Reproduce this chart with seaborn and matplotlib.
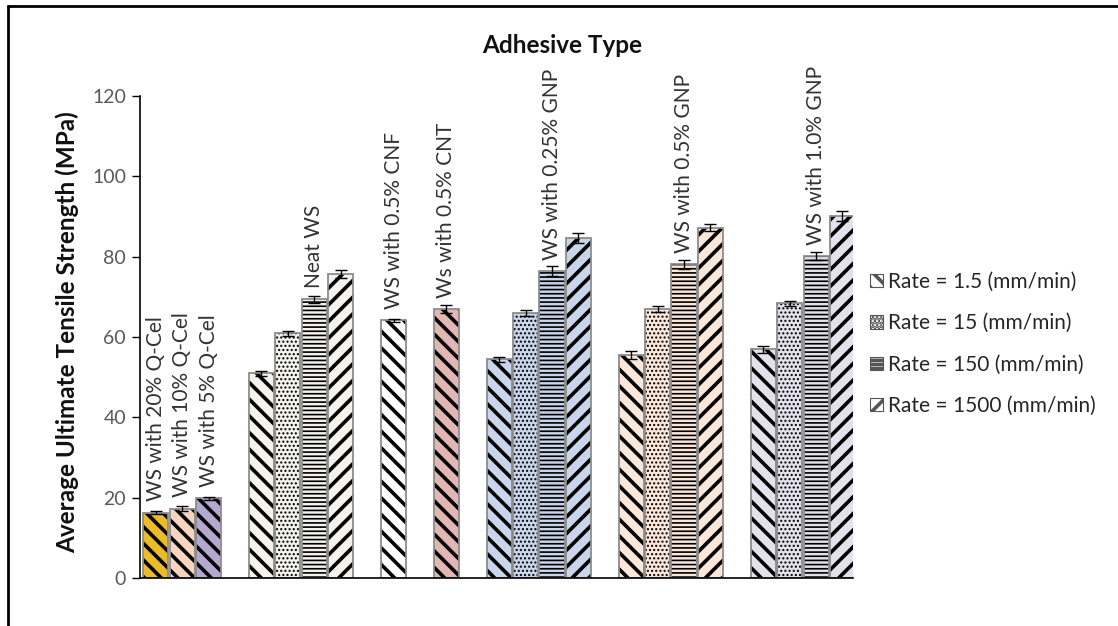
import matplotlib
matplotlib.use("Agg")
import matplotlib.pyplot as plt
import matplotlib.patches as mpatches
import matplotlib.lines as mlines
import matplotlib.colors as mcolors
import pandas as pd
import seaborn as sns

# ---- data -------------------------------------------------------------
rate_labels = ["Rate = 1.5 (mm/min)", "Rate = 15 (mm/min)",
               "Rate = 150 (mm/min)", "Rate = 1500 (mm/min)"]

qcel_labels = ["WS with 20% Q-Cel", "WS with 10% Q-Cel", "WS with 5% Q-Cel"]
qcel_strength = [16.3, 17.3, 19.8]
qcel_error = [0.3, 0.5, 0.3]

neat_label = "Neat WS"
neat_strength = [51.0, 60.9, 69.4, 75.7]
neat_error = [0.6, 0.7, 0.9, 0.9]

cnf_label = "WS with 0.5% CNF"
cnf_strength = [64.2]
cnf_error = [0.4]

cnt_label = "Ws with 0.5% CNT"
cnt_strength = [67.0]
cnt_error = [0.9]

gnp025_label = "WS with 0.25% GNP"
gnp025_strength = [54.5, 66.0, 76.4, 84.6]
gnp025_error = [0.6, 0.8, 1.3, 1.2]

gnp05_label = "WS with 0.5% GNP"
gnp05_strength = [55.5, 67.0, 78.1, 87.2]
gnp05_error = [0.9, 0.7, 1.1, 0.9]

gnp10_label = "WS with 1.0% GNP"
gnp10_strength = [56.9, 68.4, 80.2, 90.2]
gnp10_error = [0.8, 0.6, 1.0, 1.2]

# ---- styling ----------------------------------------------------------
DIAG_DOWN = "\\\\"
rate_hatches = [DIAG_DOWN, "....", "----", "//"]
hatch_widths = {DIAG_DOWN: 2.6, "....": 1.0, "----": 1.2, "//": 2.6}

sns.set_style("white")
plt.rcParams["font.family"] = ["Lato", "DejaVu Sans"]
plt.rcParams["hatch.linewidth"] = 2.6

# each group: values, errors, fill colours, hatches, per-bar labels
groups = [
    (qcel_strength, qcel_error, ["#EDBB2A", "#F8D3BD", "#B3A8CF"],
     [DIAG_DOWN] * 3, qcel_labels),
    (neat_strength, neat_error, ["#F3F3EC"] * 4, rate_hatches,
     [None, None, neat_label, None]),
    (cnf_strength, cnf_error, ["#FFFFFF"], [DIAG_DOWN], [cnf_label]),
    (cnt_strength, cnt_error, ["#E2B6B3"], [DIAG_DOWN], [cnt_label]),
    (gnp025_strength, gnp025_error, ["#C8D5EA"] * 4, rate_hatches,
     [None, None, gnp025_label, None]),
    (gnp05_strength, gnp05_error, ["#FBE6DA"] * 4, rate_hatches,
     [None, None, gnp05_label, None]),
    (gnp10_strength, gnp10_error, ["#E3E1EC"] * 4, rate_hatches,
     [None, None, gnp10_label, None]),
]

rows = []
slot = 0
for values, errors, fills, hatches, labels in groups:
    for v, e, f, h, lab in zip(values, errors, fills, hatches, labels):
        rows.append(dict(slot=slot, strength=v, error=e, fill=f,
                         hatch=h, label=lab))
        slot += 1
    slot += 1  # one empty slot between adhesive groups
df = pd.DataFrame(rows)

# ---- figure -----------------------------------------------------------
fig = plt.figure(figsize=(11.18, 6.26), dpi=100)
ax = fig.add_axes([0.1252, 0.0767, 0.6378, 0.7699])

sns.barplot(data=df, x="slot", y="strength", native_scale=True,
            width=0.95, errorbar=None, color="white", ax=ax)

black = mcolors.to_rgba("black")
for patch, row in zip(ax.patches, df.itertuples()):
    patch.set_facecolor(row.fill)
    patch.set_hatch(row.hatch)
    patch.set_edgecolor("#8C8C8C")
    patch.set_linewidth(1.3)
    patch._hatch_color = black
    if hasattr(patch, "set_hatch_linewidth"):
        patch.set_hatch_linewidth(hatch_widths[row.hatch])

ax.errorbar(df["slot"], df["strength"], yerr=df["error"], fmt="none",
            ecolor="black", elinewidth=1.0, capsize=4, capthick=1.0,
            zorder=4)

for row in df.itertuples():
    if row.label:
        ax.annotate(row.label, xy=(row.slot, row.strength),
                    xytext=(0, 8), textcoords="offset points",
                    rotation=90, ha="center", va="bottom",
                    fontsize=15, color="#333333")

ax.set_xlim(-0.6, 26.4)
ax.set_ylim(0, 120)
ax.set_yticks(range(0, 121, 20))
ax.set_xticks([])
ax.set_xlabel("")
ax.tick_params(axis="y", length=6, width=1, color="black",
               labelcolor="#595959", labelsize=14, pad=4, left=True,
               direction="out")
sns.despine(ax=ax)
for side in ("left", "bottom"):
    ax.spines[side].set_color("black")
    ax.spines[side].set_linewidth(1.2)

ax.set_ylabel("Average Ultimate Tensile Strength (MPa)", fontsize=17.5,
              fontweight="bold", color="#111111")
ax.yaxis.set_label_coords(-0.0856, 0.51)

fig.text(562 / 1118, 1 - 53 / 626, "Adhesive Type", ha="center",
         va="baseline", fontsize=17.5, fontweight="bold", color="#111111")

# legend with hatched squares for the four crosshead rates
handles = [mpatches.Patch(facecolor="white", edgecolor="#555555",
                          hatch=h, linewidth=0.8) for h in rate_hatches]
leg = fig.legend(handles, rate_labels, loc="upper left",
                 bbox_to_anchor=(870 / 1118, 1 - 272 / 626),
                 frameon=False, fontsize=15, labelspacing=1.02,
                 handlelength=0.6, handleheight=0.6, handletextpad=0.25,
                 borderpad=0, borderaxespad=0)
for t in leg.get_texts():
    t.set_color("#262626")

# outer frame lines
fig.add_artist(mlines.Line2D([8 / 1118, 1], [1 - 6 / 626, 1 - 6 / 626],
                             transform=fig.transFigure, color="black",
                             linewidth=2))
fig.add_artist(mlines.Line2D([8 / 1118, 8 / 1118], [0, 1 - 6 / 626],
                             transform=fig.transFigure, color="black",
                             linewidth=2))

fig.savefig("out.png", dpi=100)
